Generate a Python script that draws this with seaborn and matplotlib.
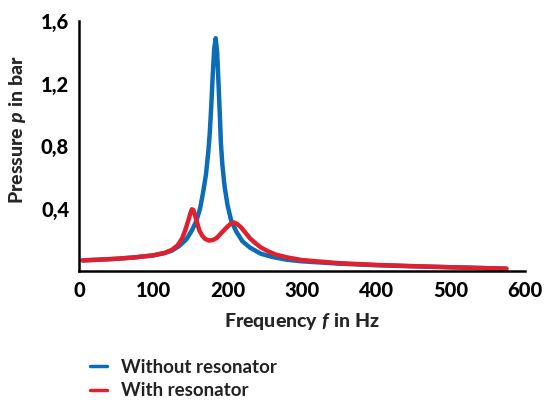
import matplotlib
matplotlib.use("Agg")
import matplotlib.pyplot as plt
import numpy as np
import pandas as pd
import seaborn as sns

# Frequenz / Druck ohne Resonator
freq_without = [5, 25, 50, 75, 100, 115, 125, 135, 145, 152, 158, 163, 167, 171,
                174, 176, 178, 180, 182, 184, 186, 188, 190, 191, 193, 196, 200,
                205, 212, 220, 230, 245, 260, 280, 300, 350, 400, 450, 500, 550, 575]
p_without = [0.068, 0.072, 0.078, 0.087, 0.100, 0.115, 0.130, 0.160, 0.205, 0.26,
             0.32, 0.40, 0.50, 0.62, 0.76, 0.88, 1.05, 1.25, 1.42, 1.49, 1.40,
             1.18, 0.95, 0.82, 0.68, 0.54, 0.42, 0.32, 0.25, 0.19, 0.15, 0.11,
             0.09, 0.072, 0.062, 0.047, 0.037, 0.030, 0.024, 0.018, 0.015]

# Frequenz / Druck mit Resonator
freq_with = [5, 25, 50, 75, 100, 115, 125, 133, 139, 143, 147, 150, 152, 154, 156,
             159, 162, 166, 170, 175, 180, 185, 190, 195, 200, 205, 209, 213, 218,
             224, 230, 237, 245, 255, 265, 280, 300, 350, 400, 450, 500, 550, 575]
p_with = [0.068, 0.072, 0.078, 0.087, 0.100, 0.115, 0.135, 0.165, 0.21, 0.26, 0.32,
          0.37, 0.395, 0.39, 0.36, 0.31, 0.26, 0.225, 0.205, 0.195, 0.198, 0.21,
          0.235, 0.26, 0.285, 0.305, 0.31, 0.30, 0.28, 0.245, 0.21, 0.18, 0.15,
          0.125, 0.105, 0.087, 0.070, 0.050, 0.039, 0.031, 0.024, 0.018, 0.015]

series_names = ["Without resonator", "With resonator"]
series_colors = ["#0b6cb8", "#e0202f"]

x_ticks = [0, 100, 200, 300, 400, 500, 600]
y_ticks = [0, 0.4, 0.8, 1.2, 1.6]
y_tick_labels = ["", "0,4", "0,8", "1,2", "1,6"]

df = pd.concat([
    pd.DataFrame({"f": freq_without, "p": p_without, "Serie": series_names[0]}),
    pd.DataFrame({"f": freq_with, "p": p_with, "Serie": series_names[1]}),
], ignore_index=True)

sns.set_style("white")
plt.rcParams["font.family"] = ["Lato", "DejaVu Sans"]
plt.rcParams["mathtext.fontset"] = "custom"
plt.rcParams["mathtext.it"] = "Lato:italic:black"
plt.rcParams["mathtext.rm"] = "Lato:black"

fig = plt.figure(figsize=(5.44, 4.0), dpi=100)
ax = fig.add_axes([0.145, 0.3225, 0.82, 0.625])

sns.lineplot(data=df, x="f", y="p", hue="Serie", palette=series_colors,
             linewidth=3.2, sort=False, ax=ax, legend=False)

ax.set_xlim(0, 600)
ax.set_ylim(0, 1.6)
ax.set_xticks(x_ticks)
ax.set_xticklabels([str(t) for t in x_ticks])
ax.set_yticks(y_ticks)
ax.set_yticklabels(y_tick_labels)

for s in ["top", "right"]:
    ax.spines[s].set_visible(False)
for s in ["left", "bottom"]:
    ax.spines[s].set_color("black")
    ax.spines[s].set_linewidth(1.8)

ax.tick_params(axis="both", direction="out", length=5, width=1.8,
               colors="black", labelsize=14.5, pad=2)
for lab in ax.get_xticklabels() + ax.get_yticklabels():
    lab.set_fontweight("black")

# ganze Beschriftung als mathtext, damit alles gleich fett ist
ax.set_xlabel(r"$\mathrm{Frequency}\ f\ \mathrm{in\ Hz}$", fontsize=14)
ax.set_ylabel(r"$\mathrm{Pressure}\ p\ \mathrm{in\ bar}$", fontsize=14)
ax.xaxis.set_label_coords(0.5, -0.16)
ax.yaxis.set_label_coords(-0.114, 0.564)

handles = [plt.Line2D([], [], color=c, linewidth=2.5) for c in series_colors]
fig.legend(handles, series_names, loc="upper left",
           bbox_to_anchor=(0.152, 0.122), frameon=False,
           handlelength=0.9, handletextpad=0.75, labelspacing=0.36,
           prop={"weight": "bold", "size": 13.5}, labelcolor="#222222",
           borderaxespad=0)

fig.savefig("out.png", dpi=100)
